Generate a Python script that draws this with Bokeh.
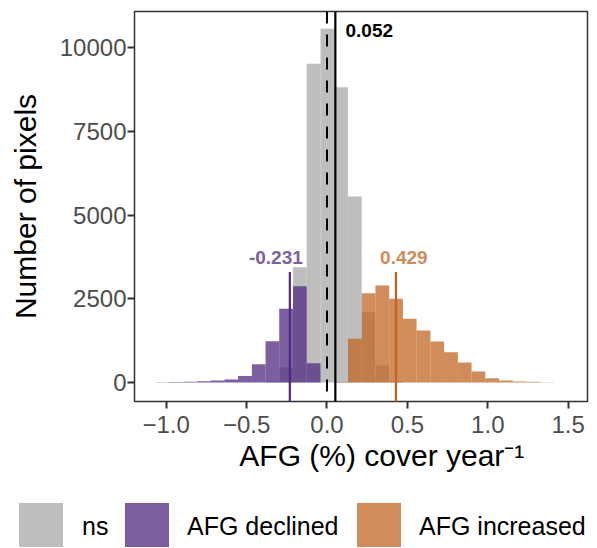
from bokeh.plotting import figure
from bokeh.layouts import column
from bokeh.models import Range1d, FixedTicker, Span, Div
from bokeh.core.properties import value
from bokeh.embed import file_html
from bokeh.resources import INLINE

# ---- data ----
bin_edges = [-1.065, -0.980, -0.894, -0.809, -0.724, -0.638, -0.553, -0.467,
             -0.382, -0.297, -0.211, -0.126, -0.040, 0.045, 0.130, 0.216,
             0.301, 0.387, 0.472, 0.557, 0.643, 0.728, 0.814, 0.899, 0.984,
             1.070, 1.155, 1.241, 1.326, 1.411, 1.497]
ns_counts = [0, 0, 0, 0, 0, 0, 0, 0, 40, 460, 3447, 9522, 10567, 8824, 5559,
             2103, 510, 50, 0, 0, 0, 0, 0, 0, 0, 0, 0, 0, 0, 0]
declined_counts = [8, 15, 25, 40, 65, 90, 195, 550, 1232, 2204, 2880, 580, 0,
                   0, 0, 0, 0, 0, 0, 0, 0, 0, 0, 0, 0, 0, 0, 0, 0, 0]
increased_counts = [0, 0, 0, 0, 0, 0, 0, 0, 0, 0, 0, 0, 0, 15, 1308, 2670,
                    2900, 2503, 1905, 1556, 1228, 908, 600, 332, 131, 60, 35,
                    22, 12, 6]
group_labels = ["ns", "AFG declined", "AFG increased"]
zero_ref = 0.0
mean_all = 0.052
mean_declined = -0.231
mean_increased = 0.429
x_ticks = [-1.0, -0.5, 0.0, 0.5, 1.0, 1.5]
x_tick_labels = ["\u22121.0", "\u22120.5", "0.0", "0.5", "1.0", "1.5"]
y_ticks = [0, 2500, 5000, 7500, 10000]
y_tick_labels = ["0", "2500", "5000", "7500", "10000"]

# ---- styles ----
FONT = "Liberation Sans"
grey_fill = "#A8A8A8"
purple_fill = "#4F2A7E"
orange_fill = "#C06623"
fills = [grey_fill, purple_fill, orange_fill]
key_colors = ["#BEBEBE", "#7B5F9E", "#D08C5A"]   # fills blended on white
fill_alpha = 0.75
purple_line = "#542788"
orange_line = "#C5631C"
purple_text = "#7B5F9E"
orange_text = "#D08B5A"
median_line_top = 3300

lefts = bin_edges[:-1]
rights = bin_edges[1:]
all_counts = [ns_counts, declined_counts, increased_counts]

p = figure(width=597, height=490, output_backend="svg", toolbar_location=None,
           x_range=Range1d(-1.197, 1.620), y_range=Range1d(-565, 11084),
           min_border_left=134, min_border_right=10, min_border_top=11,
           min_border_bottom=89)
p.grid.visible = False
p.outline_line_color = "#333333"
p.outline_line_width = 1.5
p.background_fill_color = "white"
p.border_fill_color = "white"

for counts, col in zip(all_counts, fills):
    p.quad(left=lefts, right=rights, bottom=0, top=counts,
           fill_color=col, fill_alpha=fill_alpha, line_color=None)

p.add_layout(Span(location=zero_ref, dimension="height", line_color="black",
                  line_width=2, line_dash="12 11"))
p.add_layout(Span(location=mean_all, dimension="height", line_color="black",
                  line_width=2.2))

p.segment(x0=[mean_declined], x1=[mean_declined], y0=[-2000], y1=[median_line_top],
          line_color=purple_line, line_width=2.2)
p.segment(x0=[mean_increased], x1=[mean_increased], y0=[-2000], y1=[median_line_top],
          line_color=orange_line, line_width=2.2)

p.text(x=[mean_all + 0.063], y=[10517], text=[f"{mean_all:.3f}"],
       text_font=value(FONT), text_font_style="bold", text_font_size=value("19px"),
       text_align="left", text_baseline="middle", text_color="black")
p.text(x=[mean_declined - 0.087], y=[3730], text=[f"{mean_declined:.3f}"],
       text_font=value(FONT), text_font_style="bold", text_font_size=value("19px"),
       text_align="center", text_baseline="middle", text_color=purple_text)
p.text(x=[mean_increased + 0.049], y=[3730], text=[f"{mean_increased:.3f}"],
       text_font=value(FONT), text_font_style="bold", text_font_size=value("19px"),
       text_align="center", text_baseline="middle", text_color=orange_text)

for ax in (p.xaxis[0], p.yaxis[0]):
    ax.axis_line_color = None
    ax.major_tick_line_color = "#333333"
    ax.major_tick_line_width = 2
    ax.major_tick_out = 7
    ax.major_tick_in = 0
    ax.minor_tick_line_color = None
    ax.major_label_text_font = FONT
    ax.major_label_text_font_size = "24px"
    ax.major_label_text_color = "#4D4D4D"
    ax.axis_label_text_font = FONT
    ax.axis_label_text_font_size = "30px"
    ax.axis_label_text_font_style = "normal"
    ax.axis_label_text_color = "black"

p.xaxis.ticker = FixedTicker(ticks=x_ticks)
p.xaxis.major_label_overrides = dict(zip(x_ticks, x_tick_labels))
p.yaxis.ticker = FixedTicker(ticks=y_ticks)
p.yaxis.major_label_overrides = dict(zip(y_ticks, y_tick_labels))
p.xaxis.axis_label = "\u00a0" * 5 + "AFG (%) cover year\u207b\u00b9"
p.yaxis.axis_label = "Number of pixels"
p.xaxis.major_label_standoff = 7
p.yaxis.major_label_standoff = 1
p.xaxis.axis_label_standoff = 3
p.yaxis.axis_label_standoff = 15

# ---- legend strip below the plot (HTML, absolute positions in px) ----
key_left = [19, 125, 357]
label_left = [82, 187, 419]
parts = []
for lab, col, kx, tx in zip(group_labels, key_colors, key_left, label_left):
    parts.append(f'<div style="position:absolute;left:{kx}px;top:13px;'
                 f'width:44px;height:44px;background:{col};"></div>')
    parts.append(f'<span style="position:absolute;left:{tx}px;top:21px;'
                 f'line-height:30px;white-space:nowrap;">{lab}</span>')
legend_html = ('<div style="position:relative;width:597px;height:58px;'
               f"font-family:'{FONT}';font-size:25px;color:black;margin:0;"
               'padding:0;">' + "".join(parts) + '</div>')
legend_div = Div(text=legend_html, width=597, height=58, margin=0)

layout = column(p, legend_div, spacing=0)
open("out.html", "w").write(file_html(layout, INLINE))
